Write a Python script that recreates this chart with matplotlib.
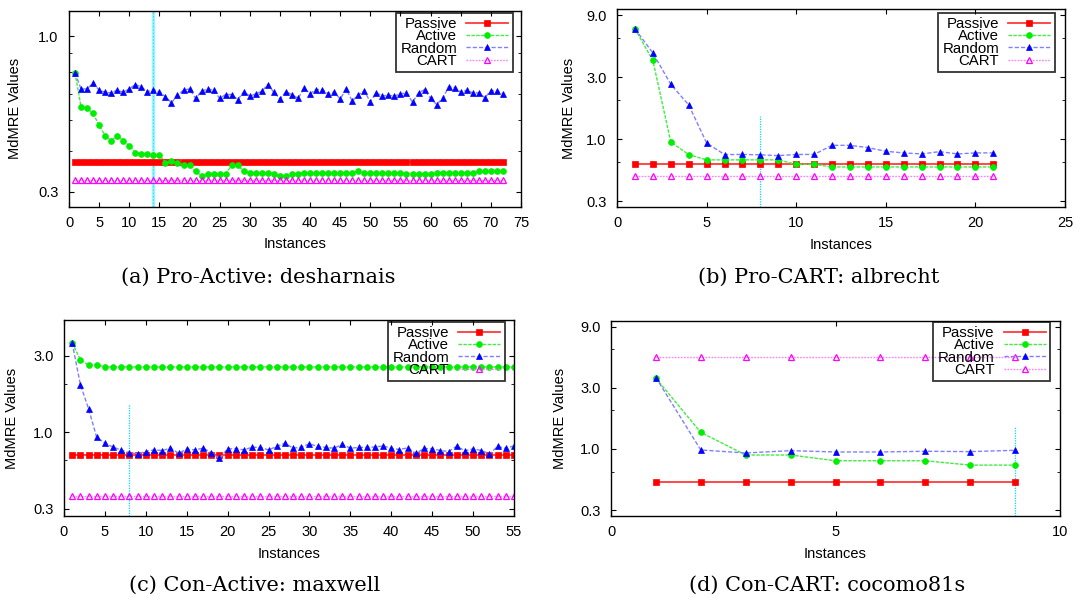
import matplotlib
matplotlib.use('Agg')
import matplotlib.pyplot as plt
from matplotlib.ticker import FixedLocator, FormatStrFormatter, NullFormatter, MultipleLocator

plt.rcParams['font.family'] = ['Liberation Sans', 'DejaVu Sans']

W, H = 1082, 602

series_names = ['Passive', 'Active', 'Random', 'CART']
ytick_values = [1 / 3, 1.0, 3.0, 9.0]

# ---------------- (a) Pro-Active: desharnais ----------------
a_x = list(range(1, 73))
a_passive = [0.412] * 72
a_cart = [0.362] * 72
a_active = [0.773, 0.607, 0.601, 0.580, 0.533, 0.496, 0.478, 0.496, 0.478, 0.462,
            0.440, 0.437, 0.436, 0.433, 0.433, 0.409, 0.414, 0.409, 0.403, 0.403,
            0.385, 0.373, 0.379, 0.379, 0.379, 0.379, 0.402, 0.402, 0.385, 0.382,
            0.382, 0.382, 0.382, 0.379, 0.373, 0.373, 0.379, 0.379, 0.382, 0.382,
            0.382, 0.382, 0.382, 0.382, 0.382, 0.382, 0.382, 0.385, 0.382, 0.382,
            0.382, 0.382, 0.382, 0.382, 0.382, 0.379, 0.379, 0.379, 0.379, 0.379,
            0.382, 0.382, 0.382, 0.382, 0.382, 0.382, 0.382, 0.385, 0.385, 0.385,
            0.385, 0.385]
a_random = [0.773, 0.690, 0.690, 0.720, 0.684, 0.674, 0.671, 0.684, 0.674, 0.690,
            0.712, 0.700, 0.676, 0.687, 0.676, 0.653, 0.626, 0.660, 0.684, 0.690,
            0.646, 0.679, 0.690, 0.684, 0.646, 0.663, 0.663, 0.640, 0.676, 0.656,
            0.666, 0.679, 0.712, 0.674, 0.643, 0.676, 0.663, 0.645, 0.693, 0.668,
            0.687, 0.687, 0.668, 0.674, 0.643, 0.690, 0.633, 0.663, 0.679, 0.630,
            0.671, 0.656, 0.660, 0.656, 0.666, 0.671, 0.628, 0.671, 0.687, 0.645,
            0.618, 0.646, 0.700, 0.697, 0.674, 0.684, 0.671, 0.671, 0.648, 0.682,
            0.679, 0.668]

# ---------------- (b) Pro-CART: albrecht ----------------
b_x = list(range(1, 22))
b_passive = [0.642] * 21
b_cart = [0.519] * 21
b_active = [7.07, 4.05, 0.955, 0.763, 0.695, 0.695, 0.695, 0.695, 0.695, 0.642,
            0.642, 0.613, 0.613, 0.613, 0.613, 0.613, 0.613, 0.613, 0.613, 0.613,
            0.613]
b_random = [7.07, 4.62, 2.65, 1.84, 0.938, 0.763, 0.765, 0.760, 0.749, 0.765,
            0.765, 0.899, 0.899, 0.863, 0.809, 0.786, 0.772, 0.804, 0.772, 0.786,
            0.786]

# ---------------- (c) Con-Active: maxwell ----------------
c_x = list(range(1, 56))
c_passive = [0.722] * 55
c_cart = [0.40] * 55
c_active = [3.6, 2.83, 2.62, 2.62] + [2.55] * 51
c_random = [3.6, 1.98, 1.40, 0.926, 0.854, 0.806, 0.772, 0.746, 0.732, 0.757,
            0.775, 0.768, 0.794, 0.739, 0.783, 0.775, 0.794, 0.746, 0.685, 0.787,
            0.787, 0.775, 0.806, 0.802, 0.775, 0.814, 0.854, 0.794, 0.806, 0.846,
            0.814, 0.802, 0.794, 0.838, 0.794, 0.802, 0.806, 0.806, 0.822, 0.791,
            0.779, 0.798, 0.736, 0.791, 0.787, 0.768, 0.757, 0.818, 0.764, 0.787,
            0.768, 0.732, 0.814, 0.791, 0.822]

# ---------------- (d) Con-CART: cocomo81s ----------------
d_x = list(range(1, 10))
d_passive = [0.553] * 9
d_cart = [5.21] * 9
d_active = [3.56, 1.345, 0.897, 0.897, 0.809, 0.809, 0.809, 0.748, 0.748]
d_random = [3.6, 0.982, 0.930, 0.970, 0.947, 0.947, 0.959, 0.953, 0.976]

captions = ['(a) Pro-Active: desharnais', '(b) Pro-CART: albrecht',
            '(c) Con-Active: maxwell', '(d) Con-CART: cocomo81s']
vline_x = [14, 8, 8, 9]
vline_top = 1.5

panels = [
    dict(x=a_x, ys=[a_passive, a_active, a_random, a_cart], xlim=(0, 75), ylim=(0.3, 1.2),
         yminor=[4 / 9, 5 / 9, 6 / 9, 7 / 9, 8 / 9], box=(69, 10.7, 521, 206.7),
         leg=(512.5, 12.7), ylab=(15.5, 108.7), xlab=(295, 244), cap=(258, 277), thick=True),
    dict(x=b_x, ys=[b_passive, b_active, b_random, b_cart], xlim=(0, 25), ylim=(0.3, 10),
         yminor=[2 / 3, 2, 6], box=(617, 9.3, 1065, 207.3),
         leg=(1054.7, 12.7), ylab=(569, 108.3), xlab=(841, 245), cap=(819, 277), thick=False),
    dict(x=c_x, ys=[c_passive, c_active, c_random, c_cart], xlim=(0, 55), ylim=(0.3, 5),
         yminor=[2 / 3, 2], box=(64, 320, 514, 516),
         leg=(504.5, 321.7), ylab=(12, 418), xlab=(289, 554), cap=(255, 585), thick=False),
    dict(x=d_x, ys=[d_passive, d_active, d_random, d_cart], xlim=(0, 10), ylim=(0.3, 10),
         yminor=[2 / 3, 2, 6], box=(611, 320.7, 1060, 516),
         leg=(1050, 321.7), ylab=(560.5, 418), xlab=(835.5, 554), cap=(827, 585), thick=False),
]

styles = [
    dict(color='#ff3a3a', lw=1.3, ls='-', marker='s', ms=4.6, mfc='#ff0000', mec='#ff0000', mew=0.5),
    dict(color='#40ee40', lw=1.0, ls=(0, (2.5, 1)), marker='o', ms=4.2, mfc='#00ee00', mec='#00ee00', mew=0.5),
    dict(color='#8080ff', lw=1.0, ls=(0, (3, 1.5)), marker='^', ms=4.4, mfc='#0000ff', mec='#0000ff', mew=0.5),
    dict(color='#ff80ff', lw=1.0, ls=(0, (1.2, 1)), marker='^', ms=4.8, mfc='none', mec='#ff00ff', mew=0.9),
]

fig = plt.figure(figsize=(W / 100, H / 100), dpi=100)


def fx(px):
    return px / W


def fy(py):
    return 1 - py / H


for i, p in enumerate(panels):
    l, t, r, b = p['box']
    ax = fig.add_axes([fx(l), fy(b), (r - l) / W, (b - t) / H])
    ax.set_yscale('log')
    ax.set_xlim(*p['xlim'])
    ax.set_ylim(*p['ylim'])
    ax.yaxis.set_major_locator(FixedLocator(ytick_values))
    ax.yaxis.set_major_formatter(FormatStrFormatter('%.1f'))
    ax.yaxis.set_minor_locator(FixedLocator(p['yminor']))
    ax.yaxis.set_minor_formatter(NullFormatter())
    ax.xaxis.set_major_locator(MultipleLocator(5))
    ax.tick_params(which='both', direction='in', top=True, right=True, labelsize=10.5)
    ax.tick_params(which='major', length=3.5, width=0.8)
    ax.tick_params(which='minor', length=2, width=0.6)
    ax.tick_params(axis='y', pad=7.5)
    ax.tick_params(axis='x', pad=6.5)
    for s in ax.spines.values():
        s.set_linewidth(1.0)

    # vertical marker line
    if p['thick']:
        ax.vlines(vline_x[i], p['ylim'][0], vline_top, colors='#9af6ff', lw=2.4, zorder=1.5)
        ax.vlines(vline_x[i], p['ylim'][0], vline_top, colors='#40dcff', lw=0.8,
                  linestyles=(0, (1.5, 1.5)), zorder=1.6)
    else:
        ax.vlines(vline_x[i], p['ylim'][0], vline_top, colors='#00dcff', lw=0.9,
                  linestyles=(0, (1, 1)), zorder=1.5)

    handles = []
    for name, yv, st in zip(series_names, p['ys'], styles):
        h, = ax.plot(p['x'], yv, label=name, clip_on=True, **st)
        handles.append(h)

    leg = ax.legend(handles=handles, loc='upper right',
                    bbox_to_anchor=(fx(p['leg'][0]), fy(p['leg'][1])),
                    bbox_transform=fig.transFigure, borderaxespad=0,
                    markerfirst=False, numpoints=1, fontsize=10.8,
                    frameon=True, fancybox=False, edgecolor='black', facecolor='none',
                    framealpha=None, labelspacing=-0.12, borderpad=0.3,
                    handlelength=2.8, handletextpad=0.6)
    leg.get_frame().set_linewidth(1.3)

    fig.text(fx(p['xlab'][0]), fy(p['xlab'][1]), 'Instances', ha='center', va='center',
             fontsize=10.5)
    fig.text(fx(p['ylab'][0]), fy(p['ylab'][1]), 'MdMRE Values', ha='center', va='center',
             rotation=90, fontsize=10.5)
    fig.text(fx(p['cap'][0]), fy(p['cap'][1]), captions[i], ha='center', va='center',
             family='DejaVu Serif', fontsize=15)

fig.savefig('out.png', dpi=100)
